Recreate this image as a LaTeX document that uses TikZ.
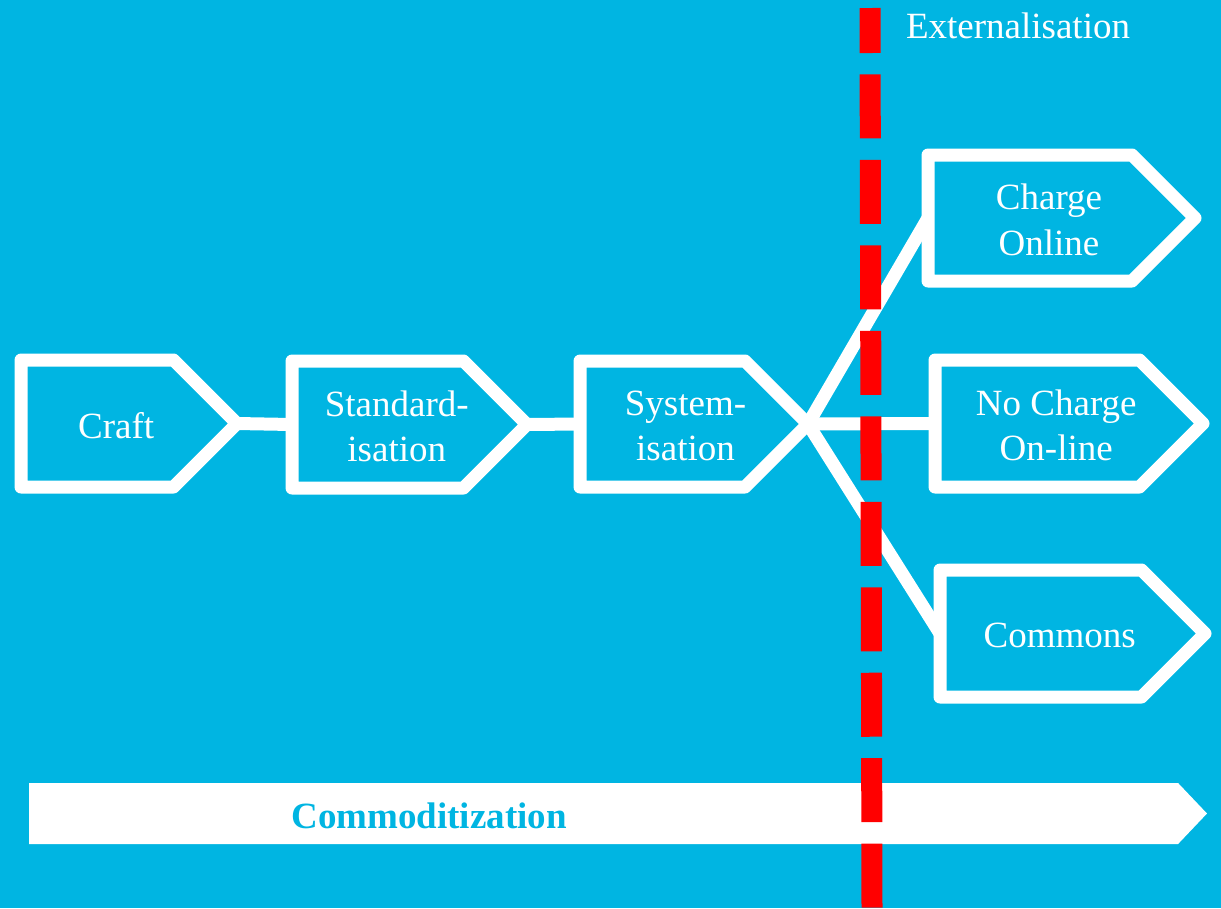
\documentclass[tikz,border=0pt]{standalone}
\usepackage{fontspec}
\setmainfont{Liberation Serif}
\usetikzlibrary{shapes.symbols}
\definecolor{skyblue}{RGB}{0,181,226}
\definecolor{cutred}{RGB}{255,0,0}
\tikzset{
  stage/.style={signal, signal to=east, signal pointer angle=90,
    draw=white, line width=9.75pt, line join=round,
    inner sep=0pt, outer sep=0pt, anchor=west},
  stagetext/.style={text=white, align=center, inner sep=0pt,
    xshift=14.25pt, yshift=-1.5pt,
    font=\fontsize{27.75}{34}\selectfont},
  size/.style 2 args={minimum width=#1*0.75pt, minimum height=#2*0.75pt},
  link/.style={white, line width=9.75pt},
}
\begin{document}
\begin{tikzpicture}[x=0.75pt, y=-0.75pt]
\fill[skyblue] (0,0) rectangle (1221,908);
\useasboundingbox (0,0) rectangle (1221,908);

\node[signal, signal to=east, signal pointer angle=93, fill=white,
  inner sep=0pt, outer sep=0pt, anchor=west, size={1178}{61}]
  (commodarrow) at (29,813.5) {};
\node[text=skyblue, anchor=base, font=\fontsize{27.75}{33}\selectfont\bfseries]
  (commod) at (429,828) {Commoditization};

\node[stage, size={216}{127}] (craft) at (21,423.5) {};
\node[stage, size={235}{127}] (stdz) at (292,424.5) {};
\node[stage, size={228}{126}] (systz) at (580,424) {};
\node[stage, size={267}{126}] (chargeon) at (928,218) {};
\node[stage, size={268}{127}] (nochargeon) at (935,423.5) {};
\node[stage, size={265}{127}] (commons) at (940,633.5) {};

\node[stagetext] (crafttext) at (craft.center) {Craft};
\node[stagetext] (stdztext) at (stdz.center) {Standard-\\isation};
\node[stagetext, xshift=3pt] (systztext) at (systz.center) {System-\\isation};
\node[stagetext] (chargeontext) at (chargeon.center) {Charge\\Online};
\node[stagetext] (nochargeontext) at (nochargeon.center) {No Charge\\On-line};
\node[stagetext] (commonstext) at (commons.center) {Commons};

\draw[link] (craft.east) -- (stdz.west);
\draw[link] (stdz.east) -- (systz.west);
\draw[link] (systz.east) -- (chargeon.west);
\draw[link] (systz.east) -- (nochargeon.west);
\draw[link] (systz.east) -- (commons.west);

% externalisation boundary
\draw[cutred, line width=15.75pt, dash pattern=on 48pt off 16.1pt,
  dash phase=14.25pt] (870,8) -- (872,908);
\node[text=white, anchor=base, font=\fontsize{27.75}{33}\selectfont]
  (extern) at (1018,38) {Externalisation};
\end{tikzpicture}
\end{document}
